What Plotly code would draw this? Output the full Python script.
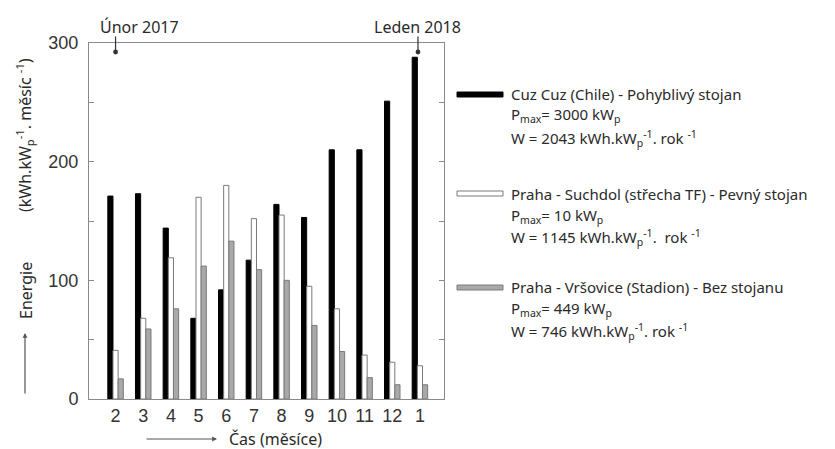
import plotly.graph_objects as go

# Monthly specific energy yield, Feb 2017 - Jan 2018
months = ["2", "3", "4", "5", "6", "7", "8", "9", "10", "11", "12", "1"]
cuz_cuz = [171, 173, 144, 68, 92, 117, 164, 153, 210, 210, 251, 288]
suchdol = [41, 68, 119, 170, 180, 152, 155, 95, 76, 37, 31, 28]
vrsovice = [17, 59, 76, 112, 133, 109, 100, 62, 40, 18, 12, 12]
y_ticks = [0, 50, 100, 150, 200, 250, 300]
y_tick_text = ["0", "", "100", "", "200", "", "300"]

legend_entries = [
    ["Cuz Cuz (Chile) - Pohyblivý stojan",
     "P<sub>max</sub>= 3000 kW<sub>p</sub>",
     "W = 2043 kWh.kW<sub>p</sub><sup>-1</sup>. rok <sup>-1</sup>"],
    ["Praha - Suchdol (střecha TF) - Pevný stojan",
     "P<sub>max</sub>= 10 kW<sub>p</sub>",
     "W = 1145 kWh.kW<sub>p</sub><sup>-1</sup>.  rok <sup>-1</sup>"],
    ["Praha - Vršovice (Stadion) - Bez stojanu",
     "P<sub>max</sub>= 449 kW<sub>p</sub>",
     "W = 746 kWh.kW<sub>p</sub><sup>-1</sup>. rok <sup>-1</sup>"],
]

x = list(range(len(months)))

fig = go.Figure()
fig.add_trace(go.Bar(x=x, y=cuz_cuz, marker=dict(color="#000000", line=dict(color="#000000", width=1))))
fig.add_trace(go.Bar(x=x, y=suchdol, marker=dict(color="#ffffff", line=dict(color="#7a7a7a", width=1))))
fig.add_trace(go.Bar(x=x, y=vrsovice, marker=dict(color="#a9a9a9", line=dict(color="#7a7a7a", width=1))))

W, H = 835, 449
L, R, T, B = 89, 444, 43, 399
pw, ph = R - L, B - T


def px(xp):
    return (xp - L) / pw


def py(yp):
    return (B - yp) / ph


text_font = dict(family="Noto Sans", size=16, color="#2a2a2a")
leg_font = dict(family="Noto Sans", size=15, color="#2a2a2a")


def label(text, xp, yp, font, angle=0, xanchor="center"):
    return dict(text=text, textangle=angle, x=px(xp), y=py(yp), xref="paper", yref="paper",
                xanchor=xanchor, yanchor="middle", showarrow=False, font=font)


annotations = []
# axis titles
annotations.append(label("(kWh.kW<sub>p</sub><sup>-1</sup>. měsíc <sup>-1</sup>)", 24, 135, text_font, -90))
annotations.append(label("Energie", 26, 290, text_font, -90))
annotations.append(dict(text="", x=px(25), y=py(333), xref="paper", yref="paper", showarrow=True,
                        ax=0, ay=62, arrowhead=2, arrowsize=0.8, arrowwidth=1.2, arrowcolor="#555"))
annotations.append(label("Čas (měsíce)", 275, 439, text_font))
annotations.append(dict(text="", x=px(217), y=py(439), xref="paper", yref="paper", showarrow=True,
                        ax=-72, ay=0, arrowhead=2, arrowsize=0.8, arrowwidth=1.2, arrowcolor="#555"))
# period markers
annotations.append(label("Únor 2017", 139, 27, text_font))
annotations.append(dict(text="", x=0, y=py(52), xref="x", yref="paper", showarrow=True,
                        ax=0, ay=-17, arrowhead=6, arrowsize=1, arrowwidth=1.2, arrowcolor="#333"))
annotations.append(label("Leden 2018", 417, 27, text_font))
annotations.append(dict(text="", x=11 - 0.07, y=py(52), xref="x", yref="paper", showarrow=True,
                        ax=0, ay=-17, arrowhead=6, arrowsize=1, arrowwidth=1.2, arrowcolor="#333"))

# legend text
line_y = [[94, 115, 138], [194, 216, 238], [287, 309, 331]]
for entry, ys in zip(legend_entries, line_y):
    for txt, yy in zip(entry, ys):
        annotations.append(label(txt, 509, yy, leg_font, xanchor="left"))

shapes = [
    dict(type="rect", xref="paper", yref="paper", x0=px(457), x1=px(503), y0=py(97), y1=py(92),
         fillcolor="#000000", line=dict(color="#000000", width=1)),
    dict(type="rect", xref="paper", yref="paper", x0=px(457), x1=px(503), y0=py(196), y1=py(191),
         fillcolor="#ffffff", line=dict(color="#7a7a7a", width=1)),
    dict(type="rect", xref="paper", yref="paper", x0=px(457), x1=px(503), y0=py(290), y1=py(285),
         fillcolor="#a9a9a9", line=dict(color="#7a7a7a", width=1)),
]

tick_font = dict(family="Liberation Sans", size=18, color="#333333")

fig.update_layout(
    width=W, height=H,
    margin=dict(l=L, r=W - R, t=T, b=H - B, pad=0),
    paper_bgcolor="white", plot_bgcolor="white",
    barmode="group", bargap=0.44, bargroupgap=0,
    showlegend=False,
    annotations=annotations,
    shapes=shapes,
    xaxis=dict(range=[-0.96, 11.87], tickvals=x, ticktext=months, ticks="", showgrid=False,
               zeroline=False, showline=True, linecolor="#8a8a8a", linewidth=1, mirror=True,
               tickfont=tick_font, ticklabelstandoff=0),
    yaxis=dict(range=[0, 300], tickvals=y_ticks, ticktext=y_tick_text, ticks="inside", ticklen=5,
               tickcolor="#8a8a8a", showgrid=False, zeroline=False, showline=True,
               linecolor="#8a8a8a", linewidth=1, mirror="ticks", tickfont=tick_font,
               ticklabelstandoff=6),
)

fig.write_html("out.html")
